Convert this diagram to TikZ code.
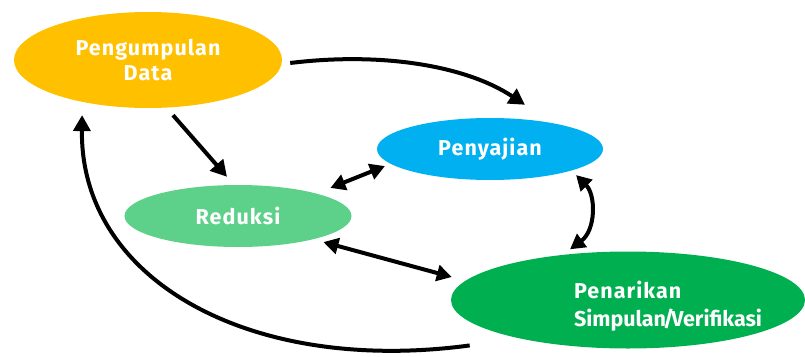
\documentclass[tikz,border=0pt]{standalone}
\usepackage{fontspec}
\setmainfont{Fira Sans}[LetterSpace=5]
\usetikzlibrary{shapes.geometric,arrows.meta}

\definecolor{goldfill}{HTML}{FFC000}
\definecolor{bluefill}{HTML}{00B0F0}
\definecolor{lightgreenfill}{HTML}{5DD089}
\definecolor{greenfill}{HTML}{00B050}

\tikzset{
	blobtext/.style = {text = white,
					   font = \fontsize{21.5}{25.5}\selectfont\bfseries},
	blob/.style = {shape = ellipse,
				   inner sep = 0pt,
				   blobtext,
				   align = center},
	flow/.style = {line width = 4pt,
				   -{Triangle[length=16pt,width=17pt]}},
	twoway/.style = {line width = 4pt,
					 {Triangle[length=15pt,width=16pt]}-{Triangle[length=15pt,width=16pt]}}
}

\begin{document}
\begin{tikzpicture}[x = 1pt, y = -1pt]

	\useasboundingbox (0,0) rectangle (805,356);

	\draw (148,60) node[blob,
						fill = goldfill,
						minimum width = 268pt,
						minimum height = 96pt] (pd) {Pengumpulan\\Data};

	\draw (490,149) node[blob,
						 fill = bluefill,
						 minimum width = 226pt,
						 minimum height = 62pt] (ps) {Penyajian};

	\draw (238,216) node[blob,
						 fill = lightgreenfill,
						 minimum width = 227pt,
						 minimum height = 62pt] (rd) {Reduksi};

	\draw (628,300) node[blob,
						 fill = greenfill,
						 minimum width = 354pt,
						 minimum height = 97pt,
						 label = {[blobtext, align = left, xshift = 40pt, yshift = -6pt]center:{Penarikan\\[2pt]{\addfontfeature{LetterSpace=0}Simpulan\kern-3pt/\kern-3pt Verifikasi}}}] (pk) {};

	\draw[flow] ([xshift=8pt,yshift=-3pt]pd.east) .. controls (380,52) and (465,65)
			.. ([xshift=35pt,yshift=13pt]ps.north);
	\draw[flow] ([xshift=25pt,yshift=-7pt]pd.south) -- ([xshift=-11pt,yshift=8pt]rd.north);
	\draw[twoway] ([xshift=12pt,yshift=6pt]rd.north east) -- ([xshift=-25pt,yshift=5pt]ps.south west);
	\draw[twoway] ([xshift=6pt,yshift=-4pt]ps.south east) .. controls (596,195) and (596,230)
			.. ([xshift=-58pt,yshift=2pt]pk.north);
	\draw[twoway] ([xshift=5pt,yshift=-4pt]rd.south east) -- ([xshift=1pt,yshift=23pt]pk.west);
	\draw[flow] ([xshift=-33pt,yshift=-11pt]pk.south west) .. controls (250,375) and (80,280)
			.. ([xshift=29pt,yshift=-21pt]pd.south west);
\end{tikzpicture}
\end{document}
